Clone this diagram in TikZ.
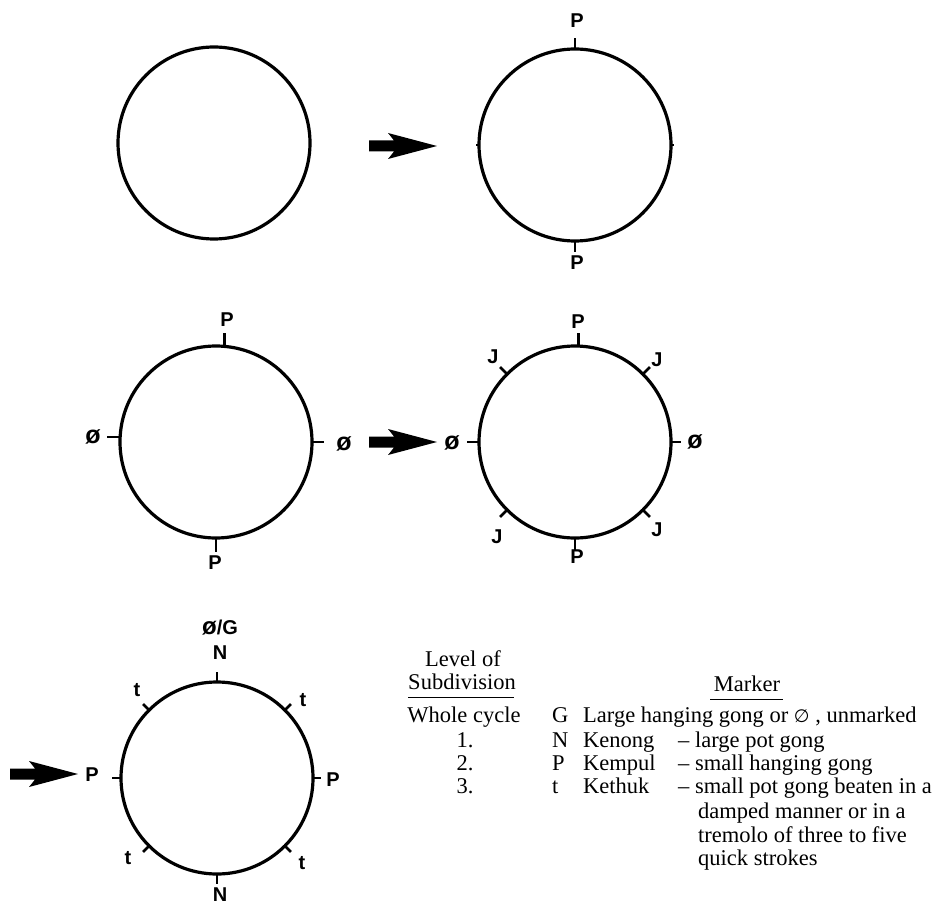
\documentclass[tikz,border=0pt]{standalone}
\usepackage{fontspec}
\setmainfont{Liberation Serif}
\newfontfamily\handfont{Liberation Sans}
\newfontfamily\symfont{DejaVu Sans}
\begin{document}
\begin{tikzpicture}[x=1pt,y=-1pt,
  gongcirc/.style={circle, draw, line width=3.2pt, minimum size=192pt, inner sep=0pt, outer sep=0pt},
  tickmark/.style={line width=2.8pt},
  smalltick/.style={line width=1.8pt},
  hand/.style={font=\handfont\bfseries\fontsize{20}{20}\selectfont, inner sep=0pt},
  handzero/.style={font=\handfont\bfseries\fontsize{25}{25}\selectfont, inner sep=0pt},
  legend/.style={font=\fontsize{22.5}{24}\selectfont, inner sep=0pt, anchor=base west},
  legendc/.style={font=\fontsize{22.5}{24}\selectfont, inner sep=0pt, anchor=base},
  rule/.style={line width=0.9pt},
  blockarrow/.style={fill=black}]
\useasboundingbox (0,0) rectangle (939,909);
\fill[white] (0,0) rectangle (939,909);

% circles
\node[gongcirc] (c1) at (214,143) {};
\node[gongcirc] (c2) at (575,145) {};
\node[gongcirc] (c3) at (216,442) {};
\node[gongcirc] (c4) at (575,442) {};
\node[gongcirc] (c5) at (217,778) {};

% arrows
\coordinate (a1) at (437,146);
\coordinate (a2) at (437,442);
\coordinate (a3) at (78,774);
\foreach \t in {a1,a2,a3}
  \fill[blockarrow] (\t) ++(-68,-5.5) -- ++(25,0) -- ++(-6,-7.5) -- ++(49,13) -- ++(-49,13) -- ++(6,-7.5) -- ++(-25,0) -- cycle;

% circle 2
\draw[tickmark] (c2.north) -- ++(0,-11);
\draw[tickmark] (c2.south) -- ++(0,11);
\draw[smalltick] (c2.west) -- ++(-3,0);
\draw[smalltick] (c2.east) -- ++(3,0);
\node[hand] (c2n) at (577,21) {P};
\node[hand] (c2s) at (577,263) {P};

% circle 3
\draw[tickmark] (c3.85) -- ++(0,-13);
\draw[tickmark] (c3.177) -- ++(-13,0);
\draw[tickmark] (c3.east) -- ++(12,0);
\draw[tickmark] (c3.south) -- ++(0,14);
\node[hand] (c3n) at (227,320) {P};
\node[handzero] (c3w) at (93,437) {ø};
\node[handzero] (c3e) at (344,444) {ø};
\node[hand] (c3s) at (215,563) {P};

% circle 4
\draw[tickmark] (c4.88) -- ++(0,-13);
\draw[tickmark] (c4.135) -- ++(-7,-7);
\draw[tickmark] (c4.45) -- ++(7,-7);
\draw[tickmark] (c4.225) -- ++(-7,7);
\draw[tickmark] (c4.315) -- ++(7,7);
\draw[tickmark] (c4.west) -- ++(-12,0);
\draw[tickmark] (c4.east) -- ++(10,0);
\draw[tickmark] (c4.south) -- ++(0,13);
\node[hand] (c4n) at (578,322) {P};
\node[hand] (c4nw) at (493,357) {J};
\node[hand] (c4ne) at (657,360) {J};
\node[hand] (c4sw) at (497,537) {J};
\node[hand] (c4se) at (657,530) {J};
\node[handzero] (c4w) at (452,443) {ø};
\node[handzero] (c4e) at (695,442) {ø};
\node[hand] (c4s) at (577,557) {P};

% circle 5
\draw[tickmark] (c5.north) -- ++(0,-10);
\draw[tickmark] (c5.135) -- ++(-6,-6);
\draw[tickmark] (c5.45) -- ++(6,-6);
\draw[tickmark] (c5.225) -- ++(-6,6);
\draw[tickmark] (c5.315) -- ++(6,6);
\draw[tickmark] (c5.west) -- ++(-9,0);
\draw[tickmark] (c5.east) -- ++(8,0);
\draw[tickmark] (c5.south) -- ++(0,10);
\node[hand] (c5g) at (220,628) {{\fontsize{24}{24}\selectfont ø}/G};
\node[hand] (c5n) at (220,653) {N};
\node[hand] (c5nw) at (137,690) {t};
\node[hand] (c5ne) at (303,700) {t};
\node[hand] (c5w) at (92,775) {P};
\node[hand] (c5e) at (333,780) {P};
\node[hand] (c5sw) at (128,858) {t};
\node[hand] (c5se) at (302,863) {t};
\node[hand] (c5s) at (220,895) {N};

% legend
\node[legendc] (lv1) at (463,666) {Level of};
\node[legendc] (lv2) at (462,689) {Subdivision};
\draw[rule] (408,697) -- (514,697);
\node[legendc] (mk) at (747,691) {Marker};
\draw[rule] (710,699) -- (783,699);

\node[legendc] (l0) at (464,722) {Whole cycle};
\node[legendc] (l1) at (465,747) {1.};
\node[legendc] (l2) at (465,770) {2.};
\node[legendc] (l3) at (465,793) {3.};

\node[legend] (mG) at (552,722) {G};
\node[legend] (mN) at (552,747) {N};
\node[legend] (mP) at (552,770) {P};
\node[legend] (mt) at (552,793) {t};

\node[legend] (dG) at (583,722) {Large hanging gong or {\symfont\fontsize{18}{18}\selectfont ∅} , unmarked};
\node[legend] (nN) at (583,747) {Kenong};
\node[legend] (nP) at (583,770) {Kempul};
\node[legend] (nt) at (583,793) {Kethuk};
\node[legend] (dN) at (678,747) {– large pot gong};
\node[legend] (dP) at (678,770) {– small hanging gong};
\node[legend] (dt) at (678,793) {– small pot gong beaten in a};
\node[legend] (dt2) at (698,818) {damped manner or in a};
\node[legend] (dt3) at (698,842) {tremolo of three to five};
\node[legend] (dt4) at (698,865) {quick strokes};
\end{tikzpicture}
\end{document}
